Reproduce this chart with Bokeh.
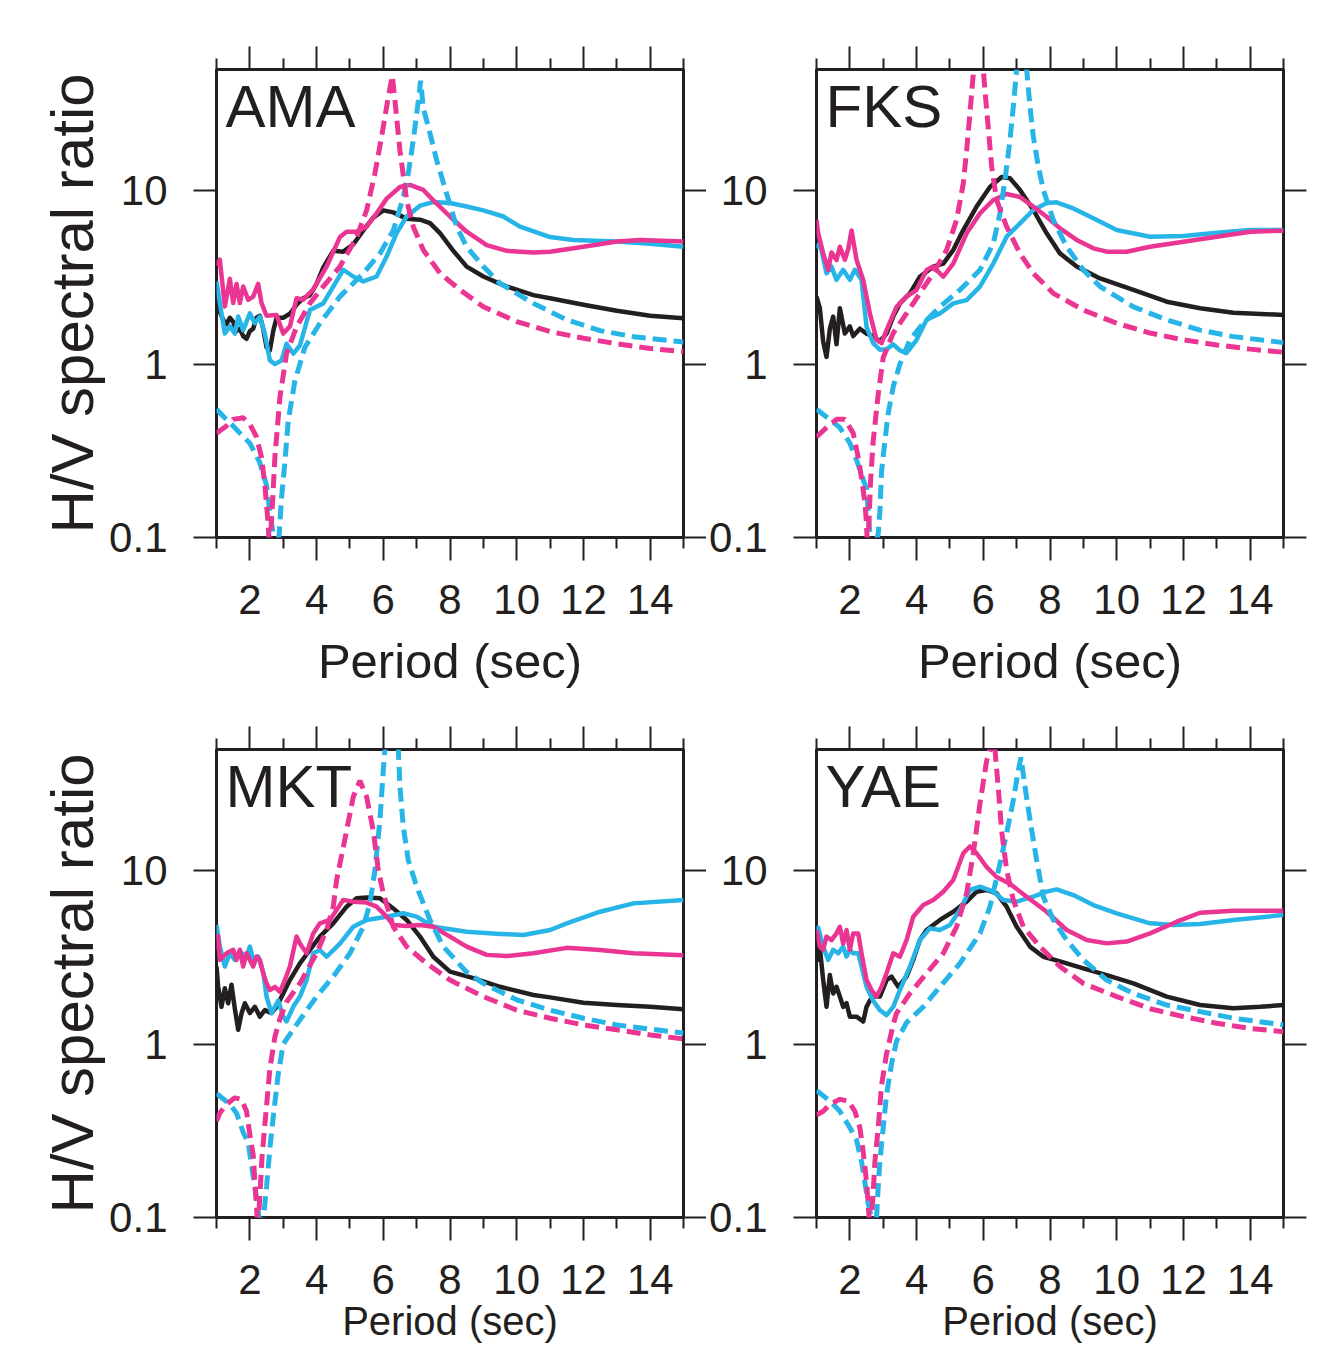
from bokeh.plotting import figure
from bokeh.models import Range1d, FixedTicker, LinearAxis, LogAxis, Label, CustomJSTickFormatter, BasicTickFormatter
from bokeh.layouts import column, row
from bokeh.embed import file_html
from bokeh.resources import INLINE

# ---------------- data ----------------
stations = ["AMA", "FKS", "MKT", "YAE"]
x_major = [2, 4, 6, 8, 10, 12, 14]
x_minor = [1, 3, 5, 7, 9, 11, 13, 15]
x_labels = ["2", "4", "6", "8", "10", "12", "14"]
y_major = [0.1, 1, 10]
y_labels = ["0.1", "1", "10"]
x_title = "Period (sec)"
y_title = "H/V spectral ratio"

# AMA
ama_obs_x = [1.0,1.1,1.2,1.3,1.4,1.5,1.6,1.7,1.8,1.9,2.0,2.1,2.2,2.3,2.4,2.5,2.6,2.7,2.8,3.0,3.2,3.4,3.6,3.8,4.0,4.2,4.5,4.8,5.1,5.4,5.7,6.0,6.3,6.7,7.1,7.4,7.7,8.1,8.5,9.0,9.7,10.5,11.0,12.0,13.0,14.0,15.0]
ama_obs_y = [2.6,2.0,1.8,1.7,1.85,1.75,1.55,1.6,1.45,1.4,1.55,1.6,1.85,1.9,1.6,1.25,1.2,1.55,1.85,1.85,1.95,2.2,2.4,2.5,2.9,3.6,4.5,4.45,4.9,5.9,7.0,7.7,7.5,6.9,6.8,6.5,5.7,4.5,3.65,3.2,2.8,2.5,2.4,2.2,2.03,1.9,1.84]
ama_sa_x = [1.0,1.1,1.25,1.4,1.5,1.6,1.7,1.8,1.95,2.1,2.25,2.35,2.5,2.8,3.0,3.2,3.4,3.6,3.9,4.3,4.7,4.9,5.2,5.5,5.8,6.1,6.5,6.8,7.2,7.5,8.0,8.5,9.1,9.7,10.5,11.0,12.0,13.0,13.7,15.0]
ama_sa_y = [3.7,4.0,2.15,3.1,2.25,2.9,2.25,2.8,2.35,2.45,2.9,2.25,1.9,1.92,1.5,1.65,2.4,2.35,2.7,3.65,5.4,5.8,5.8,6.2,7.4,9.0,10.5,10.8,10.1,8.8,7.1,5.8,4.86,4.5,4.4,4.45,4.75,5.1,5.2,5.1]
ama_sb_x = [1.0,1.1,1.25,1.4,1.55,1.65,1.8,2.0,2.15,2.3,2.45,2.6,2.75,2.95,3.1,3.3,3.5,3.8,4.2,4.5,4.8,5.1,5.4,5.8,6.1,6.4,6.7,7.1,7.5,8.0,8.5,9.0,9.6,10.1,11.0,11.7,13.0,14.0,15.0]
ama_sb_y = [3.0,2.25,1.5,1.65,1.5,1.88,1.57,1.96,1.72,1.88,1.5,1.05,1.0,1.05,1.31,1.15,1.28,2.05,2.24,2.8,3.5,3.2,3.0,3.2,4.17,5.7,7.1,8.2,8.6,8.5,8.1,7.7,7.1,6.2,5.4,5.2,5.1,4.95,4.75]
ama_ea_x = [1.0,1.3,1.5,1.8,2.0,2.2,2.35,2.45,2.52,2.56,2.59,2.63,2.68,2.75,2.9,3.1,3.4,3.8,4.2,4.7,5.2,5.5,5.75,5.95,6.15,6.27,6.35,6.5,6.7,6.9,7.2,7.7,8.3,9.0,10.0,11.0,12.0,13.0,14.0,15.0]
ama_ea_y = [0.40,0.44,0.48,0.49,0.45,0.38,0.29,0.20,0.14,0.11,0.085,0.11,0.16,0.29,0.64,1.15,1.64,2.24,2.8,3.65,5.4,7.7,12.6,20.5,34.8,46,33,17,8.8,6.2,4.55,3.34,2.68,2.14,1.76,1.54,1.41,1.31,1.23,1.18]
ama_eb_x = [1.0,1.2,1.45,1.7,2.0,2.3,2.5,2.6,2.7,2.8,2.88,2.95,3.05,3.15,3.35,3.65,4.1,4.7,5.4,5.9,6.3,6.6,6.75,6.9,7.05,7.12,7.2,7.4,7.6,7.9,8.2,8.5,9.0,9.5,10.5,11.5,12.5,13.5,15.0]
ama_eb_y = [0.55,0.5,0.45,0.4,0.35,0.27,0.2,0.14,0.105,0.085,0.105,0.17,0.27,0.47,0.8,1.25,1.72,2.45,3.34,4.35,5.9,9.2,12.6,19.6,33,43,30,21.4,15,9.6,6.2,4.75,3.65,2.92,2.24,1.8,1.56,1.44,1.34]

# FKS
fks_obs_x = [1.0,1.1,1.2,1.3,1.4,1.5,1.6,1.7,1.85,2.0,2.1,2.3,2.5,2.7,2.9,3.1,3.3,3.5,3.8,4.1,4.5,4.8,5.1,5.4,5.8,6.2,6.55,6.8,7.1,7.5,7.9,8.3,8.8,9.5,10.5,11.5,12.5,13.5,15.0]
fks_obs_y = [2.45,2.1,1.35,1.1,1.6,1.88,1.3,2.1,1.5,1.65,1.45,1.6,1.5,1.45,1.35,1.5,1.88,2.24,2.56,3.19,3.65,3.8,4.55,5.93,8.1,10.5,12.0,11.8,10.1,7.74,5.68,4.35,3.65,3.12,2.68,2.29,2.1,1.98,1.92]
fks_sa_x = [1.0,1.05,1.2,1.35,1.45,1.6,1.7,1.85,1.95,2.05,2.2,2.4,2.6,2.8,2.95,3.1,3.4,3.7,4.0,4.3,4.5,4.8,5.1,5.5,5.9,6.3,6.7,7.1,7.5,7.9,8.3,8.8,9.3,9.7,10.3,11.0,12.0,13.0,14.0,15.0]
fks_sa_y = [6.8,5.7,4.35,3.5,4.4,3.98,4.75,4.0,4.6,5.9,4.0,3.06,1.96,1.38,1.32,1.57,2.14,2.45,2.68,3.49,3.65,3.19,3.8,5.68,7.4,8.84,9.57,9.2,8.09,7.08,6.06,5.2,4.65,4.45,4.45,4.75,5.08,5.43,5.8,5.88]
fks_sb_x = [1.0,1.1,1.3,1.45,1.6,1.8,2.0,2.15,2.35,2.5,2.7,2.9,3.1,3.3,3.5,3.7,3.9,4.0,4.3,4.7,5.1,5.5,5.9,6.3,6.7,7.1,7.5,7.9,8.2,8.7,9.3,10.0,11.0,12.0,13.0,14.0,15.0]
fks_sb_y = [4.65,5.0,3.34,3.65,3.06,3.5,3.06,3.5,3.06,1.64,1.32,1.21,1.22,1.3,1.2,1.16,1.3,1.38,1.8,1.96,2.24,2.34,2.8,3.8,5.43,6.48,7.74,8.5,8.57,7.9,6.93,5.93,5.43,5.48,5.72,5.93,5.93]
fks_ea_x = [1.0,1.3,1.6,1.85,2.1,2.25,2.35,2.45,2.5,2.53,2.57,2.62,2.7,2.85,3.0,3.3,3.7,4.1,4.5,4.9,5.2,5.4,5.5,5.6,5.7,5.87,6.0,6.05,6.15,6.25,6.4,6.7,7.1,7.5,8.1,9.0,10.0,11.0,12.0,13.0,14.0,15.0]
fks_ea_y = [0.38,0.43,0.48,0.48,0.40,0.29,0.22,0.16,0.12,0.085,0.12,0.21,0.36,0.67,1.09,1.51,1.96,2.56,3.34,4.55,6.78,11,17,28,47,150,50,38,23,13.8,8.84,6.2,4.35,3.34,2.56,2.05,1.72,1.51,1.38,1.29,1.22,1.17]
fks_eb_x = [1.0,1.4,1.7,2.0,2.2,2.35,2.5,2.55,2.6,2.72,2.85,2.9,2.95,3.05,3.15,3.3,3.5,3.8,4.2,4.7,5.3,5.9,6.3,6.5,6.65,6.8,6.9,7.0,7.15,7.3,7.4,7.5,7.65,7.8,8.1,8.5,9.0,9.5,10.5,11.5,12.5,13.5,15.0]
fks_eb_y = [0.55,0.48,0.43,0.35,0.28,0.23,0.19,0.14,0.105,0.085,0.105,0.14,0.24,0.36,0.52,0.74,1.0,1.38,1.72,2.14,2.68,3.49,4.97,7.4,11.5,19.6,30.5,50,150,50,30.5,20.5,13.8,10.1,6.78,4.75,3.49,2.8,2.14,1.8,1.57,1.44,1.33]

# MKT
mkt_obs_x = [1.0,1.05,1.15,1.25,1.35,1.45,1.55,1.65,1.75,1.85,2.0,2.15,2.3,2.45,2.65,2.8,3.0,3.2,3.5,3.8,4.1,4.5,4.9,5.2,5.5,5.9,6.3,6.7,7.1,7.5,8.0,8.7,9.5,10.5,11.0,12.0,13.0,14.0,15.0]
mkt_obs_y = [2.8,2.14,1.64,2.1,1.72,2.2,1.6,1.21,1.5,1.72,1.51,1.64,1.44,1.57,1.51,1.64,1.96,2.34,2.92,3.49,4.17,4.97,6.2,6.93,7.0,6.93,6.06,5.2,4.17,3.19,2.62,2.4,2.14,1.92,1.86,1.73,1.68,1.64,1.59]
mkt_sa_x = [1.0,1.05,1.1,1.3,1.5,1.6,1.7,1.8,1.9,2.0,2.1,2.2,2.3,2.4,2.5,2.6,2.75,2.9,3.05,3.2,3.4,3.5,3.7,3.9,4.1,4.4,4.6,4.8,5.1,5.5,5.8,6.1,6.3,6.7,7.1,7.5,8.0,8.5,9.1,9.7,10.5,11.5,12.5,13.5,15.0]
mkt_sa_y = [3.5,4.2,3.06,3.34,3.5,3.06,3.5,2.8,3.34,3.06,2.8,3.2,3.06,2.56,2.24,2.05,2.14,2.0,2.34,2.8,4.17,3.8,3.34,4.35,4.97,5.2,5.93,6.78,6.63,6.55,6.2,5.43,4.86,4.8,4.86,4.75,4.17,3.65,3.27,3.22,3.34,3.59,3.49,3.34,3.25]
mkt_sb_x = [1.0,1.1,1.25,1.4,1.55,1.7,1.9,2.0,2.1,2.25,2.4,2.5,2.65,2.85,3.0,3.1,3.3,3.5,3.7,3.9,4.1,4.3,4.7,5.1,5.5,6.1,6.6,7.0,7.5,8.5,9.5,10.2,11.0,11.5,12.5,13.5,15.0]
mkt_sb_y = [4.86,3.65,2.8,3.34,3.06,3.4,3.2,3.65,3.06,3.2,2.6,1.88,1.51,1.78,1.44,1.35,1.64,1.88,2.34,3.34,3.49,3.19,3.8,4.75,5.2,5.43,5.68,5.43,4.75,4.45,4.32,4.26,4.55,4.97,5.8,6.48,6.78]
mkt_ea_x = [1.0,1.1,1.3,1.55,1.75,1.9,2.0,2.1,2.15,2.2,2.24,2.28,2.37,2.47,2.6,2.75,2.9,3.1,3.5,4.0,4.3,4.5,4.6,4.9,5.1,5.3,5.5,5.7,5.85,6.0,6.3,6.7,7.3,8.0,9.0,10.0,11.0,12.0,13.0,14.0,15.0]
mkt_ea_y = [0.36,0.40,0.45,0.49,0.48,0.41,0.30,0.23,0.16,0.115,0.085,0.115,0.23,0.38,0.72,1.1,1.4,1.75,2.24,3.34,4.55,6.2,8.8,17,26.7,33,26.7,17,10.1,7.4,4.75,3.65,2.92,2.34,1.88,1.57,1.41,1.29,1.21,1.13,1.07]
mkt_eb_x = [1.0,1.4,1.6,1.8,1.95,2.05,2.15,2.25,2.32,2.42,2.5,2.6,2.7,2.85,3.0,3.5,4.0,4.5,5.0,5.4,5.6,5.75,5.9,6.0,6.05,6.25,6.45,6.5,6.6,6.75,7.0,7.4,7.8,8.5,9.0,10.0,11.0,12.0,13.0,14.0,15.0]
mkt_eb_y = [0.52,0.45,0.40,0.31,0.27,0.20,0.15,0.11,0.085,0.105,0.15,0.25,0.38,0.67,1.0,1.38,1.88,2.45,3.34,4.75,6.48,10.1,19.6,38,50,150,50,30.5,17.9,11.5,8.09,5.2,3.65,2.6,2.24,1.8,1.57,1.41,1.29,1.22,1.16]

# YAE
yae_obs_x = [1.0,1.05,1.1,1.2,1.3,1.4,1.5,1.6,1.7,1.8,1.9,2.0,2.2,2.4,2.5,2.6,2.7,2.9,3.1,3.25,3.45,3.7,3.9,4.1,4.3,4.7,5.1,5.5,5.8,6.1,6.4,6.7,7.0,7.4,7.8,8.3,9.0,9.7,10.5,11.5,12.5,13.5,14.3,15.0]
yae_obs_y = [3.8,3.06,3.6,2.34,1.64,2.5,1.96,2.14,1.88,1.64,1.72,1.44,1.44,1.35,1.64,1.78,1.88,1.88,2.34,2.45,2.14,2.45,3.06,3.98,4.55,5.2,5.8,6.63,7.57,7.74,7.4,6.2,4.75,3.65,3.19,3.0,2.73,2.5,2.24,1.88,1.68,1.61,1.64,1.68]
yae_sa_x = [1.0,1.1,1.2,1.3,1.45,1.6,1.7,1.8,1.9,2.0,2.1,2.25,2.35,2.5,2.65,2.8,2.95,3.1,3.3,3.5,3.7,3.9,4.2,4.5,4.8,5.1,5.4,5.6,5.8,6.1,6.4,6.8,7.3,7.9,8.5,9.1,9.7,10.3,11.0,11.8,12.5,13.5,15.0]
yae_sa_y = [4.55,3.65,3.5,4.17,3.98,4.35,4.75,3.8,4.55,3.5,4.35,4.35,3.34,2.34,2.05,1.88,2.14,2.56,3.34,3.19,3.98,5.43,6.34,6.78,7.57,8.84,12.6,13.8,12.6,10.5,9.2,8.4,7.08,5.8,4.55,3.98,3.81,3.9,4.35,5.08,5.72,5.88,5.88]
yae_sb_x = [1.0,1.05,1.2,1.35,1.5,1.65,1.8,1.9,2.0,2.1,2.25,2.35,2.5,2.7,2.9,3.1,3.3,3.5,3.8,4.1,4.4,4.7,5.0,5.3,5.6,5.9,6.3,6.6,7.0,7.5,7.9,8.2,8.7,9.3,10.0,11.0,11.7,12.5,13.5,15.0]
yae_sb_y = [4.35,4.7,3.65,3.06,3.5,3.34,3.65,3.2,3.5,3.34,3.34,2.8,2.14,1.78,1.57,1.47,1.64,2.05,2.8,3.98,4.65,4.55,4.86,5.93,7.74,8.09,7.57,6.78,6.63,7.08,7.57,7.8,7.24,6.34,5.68,4.97,4.86,4.93,5.2,5.55]
yae_ea_x = [1.0,1.2,1.4,1.7,1.95,2.15,2.3,2.4,2.5,2.55,2.6,2.65,2.7,2.75,2.85,2.95,3.1,3.3,3.4,3.8,4.3,4.8,5.2,5.5,5.7,5.9,6.1,6.2,6.27,6.35,6.45,6.55,6.7,6.9,7.2,7.7,8.3,9.0,10.0,11.0,12.0,13.0,14.0,15.0]
yae_ea_y = [0.39,0.41,0.45,0.48,0.47,0.41,0.33,0.24,0.16,0.12,0.085,0.1,0.14,0.21,0.33,0.58,0.88,1.3,1.51,1.96,2.56,3.34,4.75,7.4,12.6,24.4,43,50,100,50,30,17,10.1,6.78,4.75,3.65,2.8,2.24,1.88,1.6,1.44,1.32,1.23,1.18]
yae_eb_x = [1.0,1.4,1.7,2.0,2.2,2.35,2.45,2.55,2.65,2.72,2.8,2.85,2.9,3.0,3.1,3.25,3.4,3.7,4.2,4.7,5.3,5.9,6.2,6.5,6.7,6.9,7.05,7.13,7.25,7.4,7.6,7.8,8.1,8.5,9.0,9.7,10.5,11.5,12.5,13.5,15.0]
yae_eb_y = [0.54,0.47,0.41,0.33,0.28,0.21,0.16,0.12,0.1,0.085,0.1,0.15,0.21,0.33,0.51,0.77,1.04,1.33,1.64,2.14,2.92,4.35,6.2,11,16.4,25.5,38,45,30.5,19.6,11.5,7.08,5.2,3.98,3.06,2.34,1.96,1.68,1.54,1.41,1.29]

panels = {
    "AMA": dict(obs=(ama_obs_x, ama_obs_y), sa=(ama_sa_x, ama_sa_y), sb=(ama_sb_x, ama_sb_y), ea=(ama_ea_x, ama_ea_y), eb=(ama_eb_x, ama_eb_y)),
    "FKS": dict(obs=(fks_obs_x, fks_obs_y), sa=(fks_sa_x, fks_sa_y), sb=(fks_sb_x, fks_sb_y), ea=(fks_ea_x, fks_ea_y), eb=(fks_eb_x, fks_eb_y)),
    "MKT": dict(obs=(mkt_obs_x, mkt_obs_y), sa=(mkt_sa_x, mkt_sa_y), sb=(mkt_sb_x, mkt_sb_y), ea=(mkt_ea_x, mkt_ea_y), eb=(mkt_eb_x, mkt_eb_y)),
    "YAE": dict(obs=(yae_obs_x, yae_obs_y), sa=(yae_sa_x, yae_sa_y), sb=(yae_sb_x, yae_sb_y), ea=(yae_ea_x, yae_ea_y), eb=(yae_eb_x, yae_eb_y)),
}

# ---------------- style ----------------
FONT = "Liberation Sans"
INK = "#231f20"
PINK = "#ea3593"
CYAN = "#27b5e7"
TICK_FS = "42px"


def style_axis(ax, labels=True):
    ax.axis_line_color = None
    ax.major_tick_line_color = INK
    ax.minor_tick_line_color = INK
    ax.major_tick_line_width = 2
    ax.minor_tick_line_width = 2
    ax.major_tick_in = 0
    ax.minor_tick_in = 0
    ax.major_tick_out = 23
    ax.minor_tick_out = 11
    ax.major_label_text_font = FONT
    ax.major_label_text_font_size = TICK_FS
    ax.major_label_text_color = INK
    if not labels:
        ax.formatter = CustomJSTickFormatter(code="return ''")
        ax.major_label_standoff = 0


def panel(name, left_col, top_row):
    bl = 216 if left_col else 110
    br = 23 if left_col else 49
    bt = 69 if top_row else 49
    bb = 163 if top_row else 131
    p = figure(width=bl + 467 + br, height=bt + 468 + bb,
               x_range=Range1d(1, 15), y_range=Range1d(0.1, 50), y_axis_type="log",
               output_backend="svg", toolbar_location=None,
               min_border_left=bl, min_border_right=br, min_border_top=bt, min_border_bottom=bb)
    p.xgrid.visible = False
    p.ygrid.visible = False
    p.outline_line_color = INK
    p.outline_line_width = 3
    p.background_fill_color = "white"
    p.border_fill_color = "white"

    xt = FixedTicker(ticks=x_major, minor_ticks=x_minor)
    yt = FixedTicker(ticks=y_major, minor_ticks=[])

    xa = p.xaxis[0]
    xa.ticker = xt
    style_axis(xa)
    xa.major_label_overrides = dict(zip(x_major, x_labels))
    xa.major_label_standoff = 24
    xa.axis_label = x_title
    xa.axis_label_text_font = FONT
    xa.axis_label_text_font_style = "normal"
    xa.axis_label_text_color = INK
    if top_row:
        xa.axis_label_text_font_size = "49px"
        xa.axis_label_standoff = 17
    else:
        xa.axis_label_text_font_size = "40px"
        xa.axis_label_standoff = 2

    ya = p.yaxis[0]
    ya.ticker = yt
    style_axis(ya)
    ya.formatter = BasicTickFormatter()
    ya.major_label_overrides = dict(zip(y_major, y_labels))
    ya.major_label_standoff = 26
    if left_col:
        ya.axis_label = y_title
        ya.axis_label_text_font = FONT
        ya.axis_label_text_font_size = "60px"
        ya.axis_label_text_font_style = "normal"
        ya.axis_label_text_color = INK
        ya.axis_label_standoff = 0

    top = LinearAxis(ticker=xt)
    style_axis(top, labels=False)
    p.add_layout(top, "above")
    right = LogAxis(ticker=yt)
    style_axis(right, labels=False)
    p.add_layout(right, "right")

    d = panels[name]
    p.line(d["obs"][0], d["obs"][1], line_color=INK, line_width=4.5, line_join="round")
    p.line(d["sb"][0], d["sb"][1], line_color=CYAN, line_width=4.5, line_join="round")
    p.line(d["sa"][0], d["sa"][1], line_color=PINK, line_width=4.5, line_join="round")
    p.line(d["eb"][0], d["eb"][1], line_color=CYAN, line_width=5, line_dash="14 7")
    p.line(d["ea"][0], d["ea"][1], line_color=PINK, line_width=5, line_dash="14 7")

    p.add_layout(Label(x=1, y=50, x_offset=9, y_offset=-37, text=name,
                       text_font=FONT, text_font_size="60px", text_color=INK,
                       text_align="left", text_baseline="alphabetic"))
    return p


p1 = panel("AMA", True, True)
p2 = panel("FKS", False, True)
p3 = panel("MKT", True, False)
p4 = panel("YAE", False, False)
layout = column(row(p1, p2), row(p3, p4))

open("out.html", "w").write(file_html(layout, INLINE))
